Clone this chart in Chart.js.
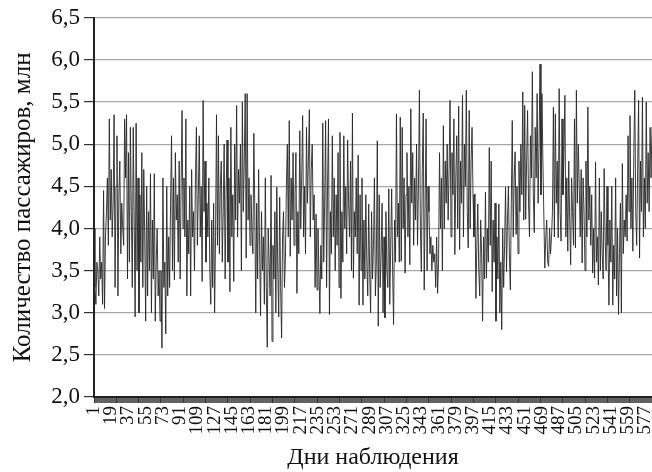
<!DOCTYPE html>
<html><head><meta charset="utf-8">
<script src="https://cdn.jsdelivr.net/npm/chart.js@4"></script>
<style>html,body{margin:0;padding:0;background:#fff}#wrap{width:652px;height:472px;position:relative}</style>
</head><body><div id="wrap"><canvas id="c"></canvas></div>
<script>
const passengers = [
4.0,3.3,3.1,3.6,3.5,3.2,3.9,3.4,3.6,3.1,
4.45,3.05,3.9,4.2,4.6,3.8,5.3,4.1,4.7,3.9,
4.3,5.35,3.3,4.5,5.1,3.2,4.4,4.8,3.7,4.3,
4.0,3.8,5.3,4.6,5.35,3.4,4.9,3.6,5.2,4.2,
3.3,5.2,4.1,2.95,5.25,3.5,4.6,3.0,4.4,3.6,
4.9,3.3,4.7,3.9,2.9,4.5,3.2,4.2,3.5,4.65,
3.0,4.1,3.4,4.65,2.9,3.6,4.0,3.2,3.5,2.9,
3.5,2.58,4.6,3.3,3.6,2.75,4.5,3.2,3.9,3.3,
4.3,5.1,3.5,4.6,3.39,4.9,4.1,4.4,3.6,4.8,
3.4,4.5,5.4,4.0,4.6,3.9,5.3,3.2,4.1,3.7,
4.5,3.2,4.7,3.9,4.2,3.5,4.6,5.2,3.8,4.4,
5.1,3.9,4.5,3.37,5.52,4.2,4.8,3.6,4.3,3.9,
4.6,3.5,3.1,4.1,3.3,4.3,3.0,3.9,5.35,3.8,
5.1,3.7,4.5,4.8,3.6,4.2,5.0,3.4,4.4,5.05,
3.6,4.6,3.25,5.2,3.9,4.4,3.37,5.0,4.1,5.46,
3.9,4.7,4.3,5.0,3.5,5.5,4.2,4.8,5.6,3.65,
5.6,4.1,4.6,3.8,4.4,4.0,3.7,5.13,4.2,3.0,
4.3,3.4,4.7,3.8,2.96,4.2,3.5,3.9,3.1,4.6,
3.3,2.59,4.0,3.6,3.2,4.63,2.66,3.8,3.4,4.2,
3.0,4.49,3.5,2.95,4.37,3.3,2.7,3.9,4.2,3.3,
3.65,4.5,5.0,3.9,5.28,3.67,4.6,4.1,4.9,3.8,
4.4,4.9,3.23,4.2,3.7,5.16,4.0,4.6,5.34,3.9,
4.5,3.7,5.2,4.3,4.8,5.41,3.9,4.7,5.0,4.1,
4.4,3.3,4.17,3.27,4.0,3.5,2.99,3.8,3.4,5.25,
3.6,4.3,5.28,3.3,4.5,5.3,2.98,4.2,3.7,5.1,
3.9,4.6,3.5,4.4,3.8,4.9,3.3,5.14,3.17,4.2,
3.6,5.1,4.0,4.5,3.7,5.05,4.3,3.9,4.8,3.5,
5.37,3.41,4.2,3.9,4.6,3.7,4.87,3.09,4.4,3.5,
4.6,3.09,4.1,3.4,4.4,3.6,3.2,4.29,3.5,3.0,
4.2,3.4,3.8,4.6,3.2,3.6,5.04,2.84,4.4,3.3,
3.7,4.3,3.0,3.9,2.94,4.2,3.5,3.3,4.47,3.1,
3.8,4.47,3.5,2.86,4.1,3.6,5.36,3.9,4.3,3.6,
5.32,3.61,5.2,4.0,4.6,3.47,4.4,4.9,3.9,4.5,
3.57,5.42,4.3,4.9,3.8,4.6,4.1,5.0,3.8,4.5,
5.64,4.0,3.49,4.7,5.37,3.27,4.3,5.3,3.5,4.5,
4.2,3.7,3.9,3.5,3.8,3.6,3.7,3.3,3.9,3.23,
3.6,4.9,4.0,4.6,3.5,5.22,4.0,4.8,4.3,5.0,
4.1,4.7,5.52,3.9,4.9,4.4,5.3,3.69,4.6,5.1,
4.0,5.45,3.75,4.8,4.3,5.58,3.9,5.0,4.5,5.64,
4.2,3.77,5.4,4.0,4.8,5.2,4.4,3.9,4.41,3.17,
3.8,4.29,3.5,3.2,4.1,3.7,2.9,3.9,3.4,4.43,
3.41,4.0,3.6,4.96,3.8,4.8,3.25,4.1,3.6,4.3,
2.9,3.9,3.4,4.29,3.0,3.6,2.8,4.0,3.3,3.8,
4.49,3.49,4.1,4.5,3.7,3.27,4.3,5.28,3.9,4.6,
4.91,3.93,4.5,3.7,4.8,4.2,5.0,4.4,5.62,4.1,
5.46,4.11,4.8,5.4,4.3,3.9,5.1,4.6,5.86,4.4,
3.95,5.2,4.6,5.6,4.3,5.0,5.95,4.4,5.6,4.8,
4.15,3.53,3.9,4.1,3.6,3.55,4.0,3.7,3.9,4.2,
5.44,3.9,5.36,4.3,4.8,3.89,5.66,4.2,3.85,5.3,
4.4,4.9,5.58,3.9,4.6,3.73,4.8,4.1,3.57,4.6,
4.2,3.8,5.3,3.77,5.64,4.3,5.0,4.5,3.9,4.7,
3.59,4.6,4.2,3.5,4.8,3.9,5.44,4.1,4.5,3.8,
4.4,3.47,4.0,3.41,4.79,3.6,3.9,3.33,4.6,3.5,
4.2,3.7,3.4,4.71,3.9,3.5,4.5,3.8,3.09,4.1,
3.6,4.5,3.09,3.8,3.4,4.6,3.2,4.0,2.98,3.7,
4.3,3.0,4.77,3.7,4.1,3.9,4.4,3.85,5.1,4.2,
5.34,4.0,4.6,3.73,4.9,5.64,4.2,3.8,4.7,5.52,
3.65,4.8,4.2,5.56,3.9,4.6,4.0,5.5,4.3,4.9,
4.2,5.2,4.6,5.2
];
const days = passengers.map((_, i) => String(i + 1));
const labelEvery = 18;
const yMin = 2.0, yMax = 6.5, yStep = 0.5;
const yTitle = 'Количество пассажиров, млн';
const xTitle = 'Дни наблюдения';

const serif = 'Liberation Serif';
new Chart(document.getElementById('c'), {
  type: 'line',
  data: {
    labels: days,
    datasets: [{
      data: passengers,
      borderColor: 'rgba(40,40,40,0.9)',
      borderWidth: 1,
      pointRadius: 0,
      tension: 0,
      fill: false
    }]
  },
  options: {
    responsive: true,
    maintainAspectRatio: false,
    animation: false,
    events: [],
    layout: { padding: { top: 9, right: 0, left: 0, bottom: 0 } },
    plugins: { legend: { display: false }, tooltip: { enabled: false } },
    scales: {
      x: {
        type: 'category',
        offset: false,
        border: { display: true, color: '#222', width: 2 },
        grid: { drawOnChartArea: false, drawTicks: true, tickLength: 6, tickColor: 'rgba(35,35,35,0.9)', lineWidth: 0.8 },
        ticks: {
          autoSkip: false, minRotation: 90, maxRotation: 90, padding: 3,
          color: '#111', font: { family: serif, size: 19 },
          callback: function(v, i) { return i % labelEvery === 0 ? days[i] : ''; }
        },
        title: { display: true, text: xTitle, color: '#111', font: { family: serif, size: 24 }, padding: { top: 3, bottom: 0 } },
        afterFit: function(s) { s.height = 75; s.paddingRight = 0; s.paddingLeft = 0; }
      },
      y: {
        min: yMin, max: yMax,
        border: { display: true, color: '#222', width: 2 },
        grid: { color: '#a8a8a8', lineWidth: 1.2, tickLength: 10, tickColor: '#333' },
        ticks: {
          stepSize: yStep, padding: 4, color: '#111', font: { family: serif, size: 23 },
          callback: function(v) { return v.toFixed(1).replace('.', ','); }
        },
        title: { display: true, text: yTitle, color: '#111', font: { family: serif, size: 25 }, padding: { top: 8, bottom: 0 } },
        afterFit: function(s) { s.width = 94; }
      }
    }
  }
});
</script>
</body></html>
